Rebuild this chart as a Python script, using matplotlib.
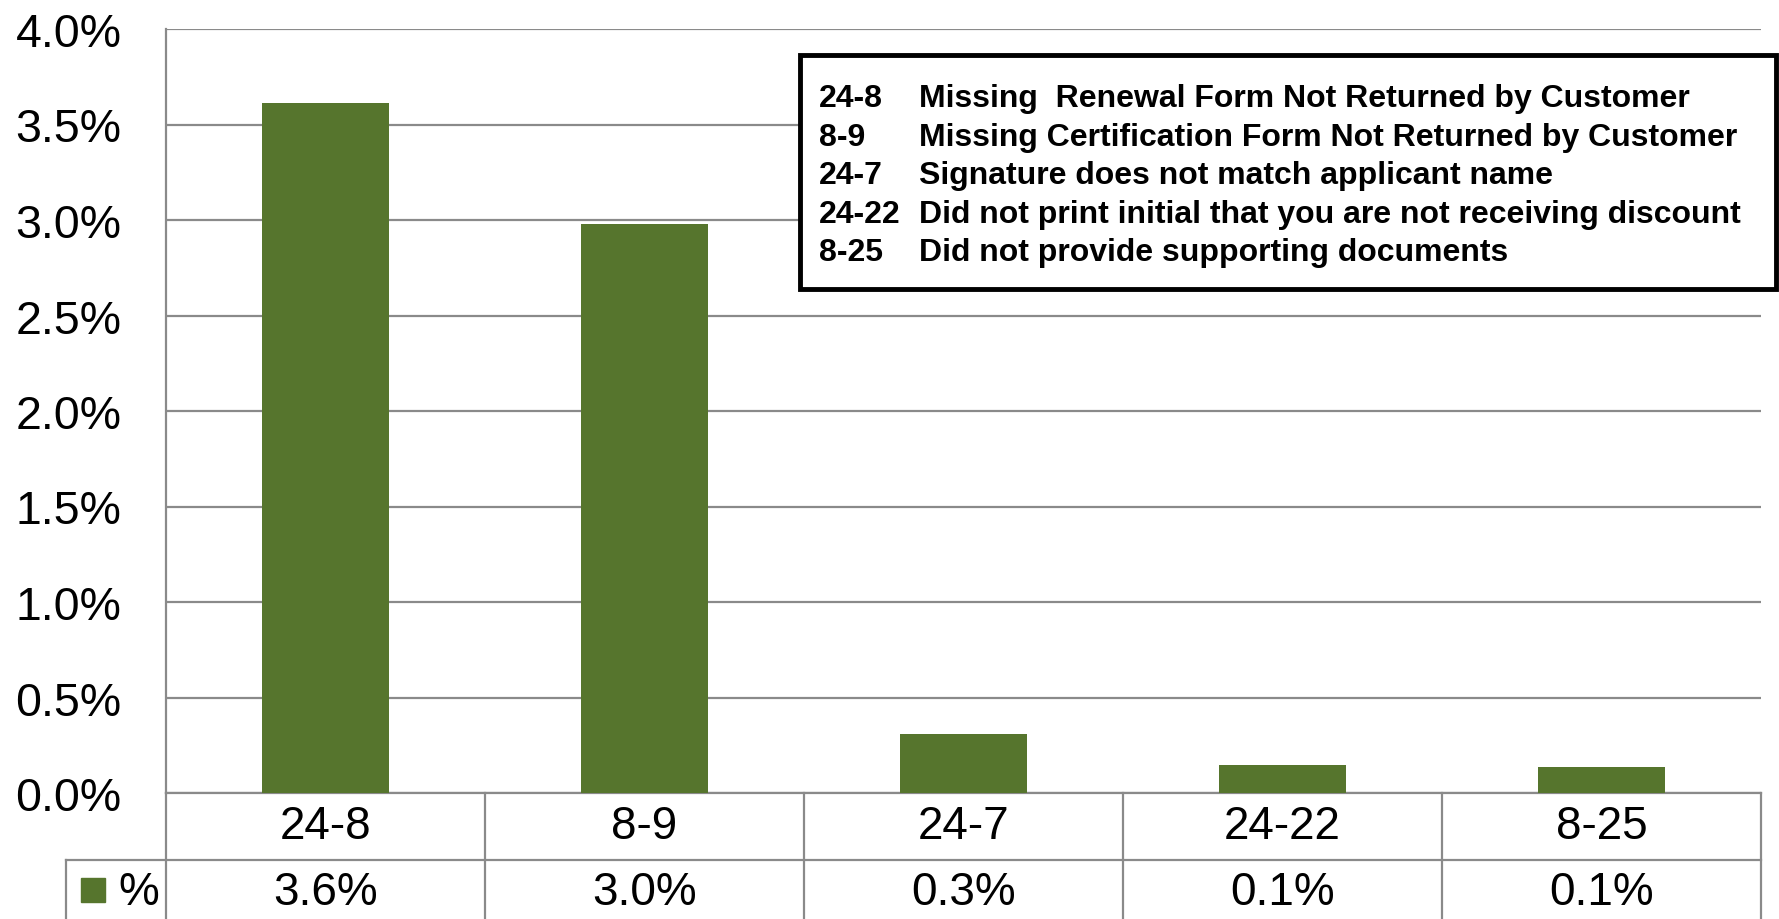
import matplotlib.pyplot as plt
from matplotlib.patches import Rectangle

# data
codes = ['24-8', '8-9', '24-7', '24-22', '8-25']
pct = [3.61, 2.98, 0.31, 0.148, 0.137]
series_name = '%'
descriptions = [
    'Missing  Renewal Form Not Returned by Customer',
    'Missing Certification Form Not Returned by Customer',
    'Signature does not match applicant name',
    'Did not print initial that you are not receiving discount',
    'Did not provide supporting documents',
]

bar_color = '#56752d'
line_color = '#8a8a8a'
W, H = 1779, 920

plt.rcParams['font.family'] = ['Liberation Sans', 'DejaVu Sans']

fig = plt.figure(figsize=(W / 100, H / 100), dpi=100)
ax = fig.add_axes([166 / W, 1 - 794 / H, (1761 - 166) / W, (794 - 30) / H])

x = list(range(len(codes)))
ax.bar(x, pct, width=0.4, color=bar_color, zorder=3)
ax.set_xlim(-0.5, len(codes) - 0.5)
ax.set_ylim(0, 4)
yt = [i * 0.5 for i in range(9)]
ax.set_yticks(yt)
ax.set_yticklabels([f'{v:.1f}%' for v in yt], fontsize=33.5)
ax.tick_params(axis='y', length=0, pad=32)
ax.set_xticks([])
ax.grid(axis='y', color=line_color, lw=1.6, zorder=1)
for s in ['top', 'right', 'bottom']:
    ax.spines[s].set_visible(False)
ax.spines['left'].set_color(line_color)
ax.spines['left'].set_linewidth(1.6)

# data table under the axis
tr = ax.get_xaxis_transform()
ah = 764.0
r1 = -(861 - 794) / ah
r2 = -(H - 794 + 5) / ah
unit = (1761 - 166) / len(codes)
leg_x = -0.5 - 100 / unit
kw = dict(color=line_color, lw=1.6, transform=tr, clip_on=False)
ax.plot([-0.5, len(codes) - 0.5], [0, 0], **kw)
ax.plot([leg_x, len(codes) - 0.5], [r1, r1], **kw)
ax.plot([leg_x, leg_x], [r1, r2], **kw)
ax.plot([-0.5, -0.5], [0, r2], **kw)
for i in x:
    ax.plot([i + 0.5, i + 0.5], [0, r2], **kw)
    ax.text(i, r1 / 2, codes[i], transform=tr, ha='center', va='center', fontsize=33)
    ax.text(i, (r1 + r2) / 2, f'{pct[i]:.1f}%', transform=tr, ha='center',
            va='center', fontsize=33)
ax.add_patch(Rectangle((leg_x + 15 / unit, r1 - (879 - 861) / ah), 24 / unit, -24 / ah,
                       transform=tr, color=bar_color, clip_on=False))
ax.text(leg_x + 52 / unit, (r1 + r2) / 2, series_name, transform=tr, ha='left',
        va='center', fontsize=33)

# code legend box
fig.patches.append(Rectangle((800 / W, 1 - 290 / H), 976 / W, 234 / H, transform=fig.transFigure,
                             fill=True, facecolor='white', edgecolor='black', lw=3.5, zorder=5))
for k, (c, d) in enumerate(zip(codes, descriptions)):
    yy = 1 - (99 + k * 38.6) / H
    fig.text(819 / W, yy, c, fontsize=23, fontweight='bold', va='center', zorder=6)
    fig.text(919 / W, yy, d, fontsize=23, fontweight='bold', va='center', zorder=6)

fig.savefig('out.png', dpi=100)
